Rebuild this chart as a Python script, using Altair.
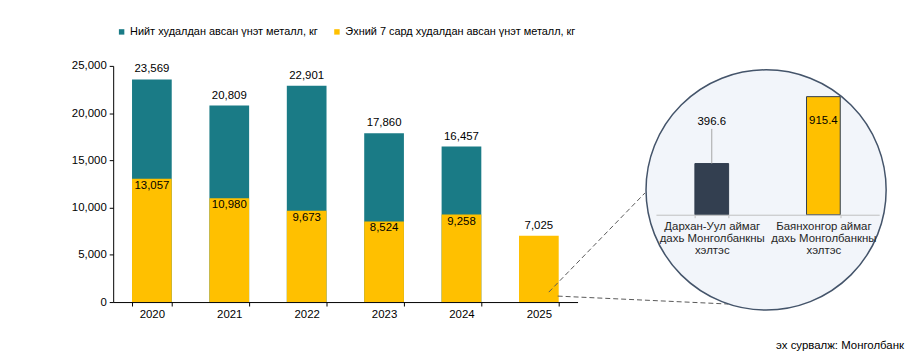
import altair as alt
import pandas as pd

years = ["2020", "2021", "2022", "2023", "2024", "2025"]
total = [23569, 20809, 22901, 17860, 16457, None]
seven = [13057, 10980, 9673, 8524, 9258, 7025]
series = ["Нийт худалдан авсан үнэт металл, кг",
          "Эхний 7 сард худалдан авсан үнэт металл, кг"]
branches = ["Дархан-Уул аймаг|дахь Монголбанкны|хэлтэс",
            "Баянхонгор аймаг|дахь Монголбанкны|хэлтэс"]
branch_vals = [396.6, 915.4]
source_txt = "эх сурвалж: Монголбанк"
y_ticks = [0, 5000, 10000, 15000, 20000, 25000]

FONT = "Liberation Sans"
FS = 11.5
TEAL = "#1a7b86"
YEL = "#ffc000"

rows = []
for y, t in zip(years, total):
    if t is not None:
        rows.append({"year": y, "series": series[0], "value": t})
for y, s in zip(years, seven):
    rows.append({"year": y, "series": series[1], "value": s})
bars_df = pd.DataFrame(rows)
top_df = pd.DataFrame({"year": years,
                       "value": [t if t is not None else s for t, s in zip(total, seven)]})
in_df = pd.DataFrame([{"year": y, "value": s} for y, t, s in zip(years, total, seven) if t is not None])
inset_df = pd.DataFrame({"branch": branches, "val": branch_vals})
dummy = pd.DataFrame({"a": [0]})

xs = alt.X("year:N", sort=years,
           scale=alt.Scale(domain=years, range=[0, 468], paddingInner=0.487, paddingOuter=0.2435),
           axis=alt.Axis(title=None, labelAngle=0, tickBand="extent", domainColor="black",
                         tickColor="black", tickSize=4, labelPadding=3, labelFontSize=FS,
                         labelColor="black", grid=False))
ys = alt.Y("value:Q", stack=None, scale=alt.Scale(domain=[0, 25000], nice=False),
           axis=alt.Axis(title=None, values=y_ticks, format=",.0f", domainColor="black",
                         tickColor="black", tickSize=4, labelPadding=3, labelFontSize=FS,
                         labelColor="black", grid=False))

bars = alt.Chart(bars_df).mark_bar().encode(
    x=xs, y=ys,
    color=alt.Color("series:N", scale=alt.Scale(domain=series, range=[TEAL, YEL]),
                    legend=alt.Legend(orient="none", legendX=3, legendY=-40, direction="horizontal",
                                      title=None, symbolType="square", symbolSize=30,
                                      symbolStrokeWidth=0, labelFontSize=11, labelOffset=3,
                                      columnPadding=13, labelLimit=400, labelColor="black")),
)
lbl_top = alt.Chart(top_df).mark_text(baseline="bottom", dy=-5, fontSize=FS, color="black").encode(
    x=alt.X("year:N", sort=years), y=alt.Y("value:Q"), text=alt.Text("value:Q", format=",.0f"))
lbl_in = alt.Chart(in_df).mark_text(baseline="top", dy=1, fontSize=FS, color="black").encode(
    x=alt.X("year:N", sort=years), y=alt.Y("value:Q"), text=alt.Text("value:Q", format=",.0f"))
main = alt.layer(bars, lbl_top, lbl_in)

dash1 = alt.Chart(dummy).mark_rule(color="#595959", strokeDash=[5, 3], strokeWidth=1).encode(
    x=alt.value(439), y=alt.value(228), x2=alt.value(536), y2=alt.value(128))
dash2 = alt.Chart(dummy).mark_rule(color="#595959", strokeDash=[5, 3], strokeWidth=1).encode(
    x=alt.value(448), y=alt.value(232), x2=alt.value(620), y2=alt.value(240))
circle = alt.Chart(dummy).mark_point(shape="circle", size=242 * 242, filled=True, fill="#f2f5fa",
                                     stroke="#44546a", strokeWidth=1.5, opacity=1).encode(
    x=alt.value(658), y=alt.value(125))

ix = alt.X("branch:N", sort=branches,
           scale=alt.Scale(domain=branches, range=[547, 772], paddingInner=0.698, paddingOuter=0.349),
           axis=alt.Axis(orient="bottom", offset=-88, zindex=1, title=None, labelAngle=0,
                         tickBand="extent", domainColor="#bfbfbf", tickColor="#bfbfbf", tickSize=3,
                         labelPadding=3, labelExpr="split(datum.label, '|')", labelLineHeight=12,
                         labelFontSize=FS, labelColor="#262626", grid=False))
iy = alt.Y("val:Q", scale=alt.Scale(domain=[0, 1000], range=[150, 20], nice=False), axis=None)

ibars = alt.Chart(inset_df).mark_bar(stroke="#2f3b4d", strokeWidth=1).encode(
    x=ix, y=iy,
    color=alt.Color("branch:N", scale=alt.Scale(domain=branches, range=["#333f50", YEL]), legend=None))
ileader = alt.Chart(inset_df).transform_filter(alt.datum.branch == branches[0]).mark_rule(
    color="#a6a6a6", strokeWidth=1, y2Offset=-35).encode(
    x=alt.X("branch:N", sort=branches), y=alt.Y("val:Q"), y2=alt.Y2("val"))
ilbl1 = alt.Chart(inset_df).transform_filter(alt.datum.branch == branches[0]).mark_text(
    baseline="middle", dy=-42, fontSize=FS, color="black").encode(
    x=alt.X("branch:N", sort=branches), y=alt.Y("val:Q"), text=alt.Text("val:Q", format=".1f"))
ilbl2 = alt.Chart(inset_df).transform_filter(alt.datum.branch == branches[1]).mark_text(
    baseline="middle", dy=25, fontSize=FS, color="black").encode(
    x=alt.X("branch:N", sort=branches), y=alt.Y("val:Q"), text=alt.Text("val:Q", format=".1f"))
inset = alt.layer(ibars, ileader, ilbl1, ilbl2)

src = alt.Chart(dummy).mark_text(align="right", baseline="middle", fontSize=FS, color="black").encode(
    x=alt.value(797), y=alt.value(282), text=alt.value(source_txt))

chart = alt.layer(main, dash1, dash2, circle, inset, src).resolve_scale(
    x="independent", y="independent", color="independent"
).properties(
    width=790, height=238,
    padding={"left": 106, "top": 57, "right": 8, "bottom": 50},
    autosize=alt.AutoSizeParams(type="none"),
).configure(font=FONT).configure_view(stroke=None)

chart.save("out.html", embed_options={"renderer": "svg", "actions": False})
